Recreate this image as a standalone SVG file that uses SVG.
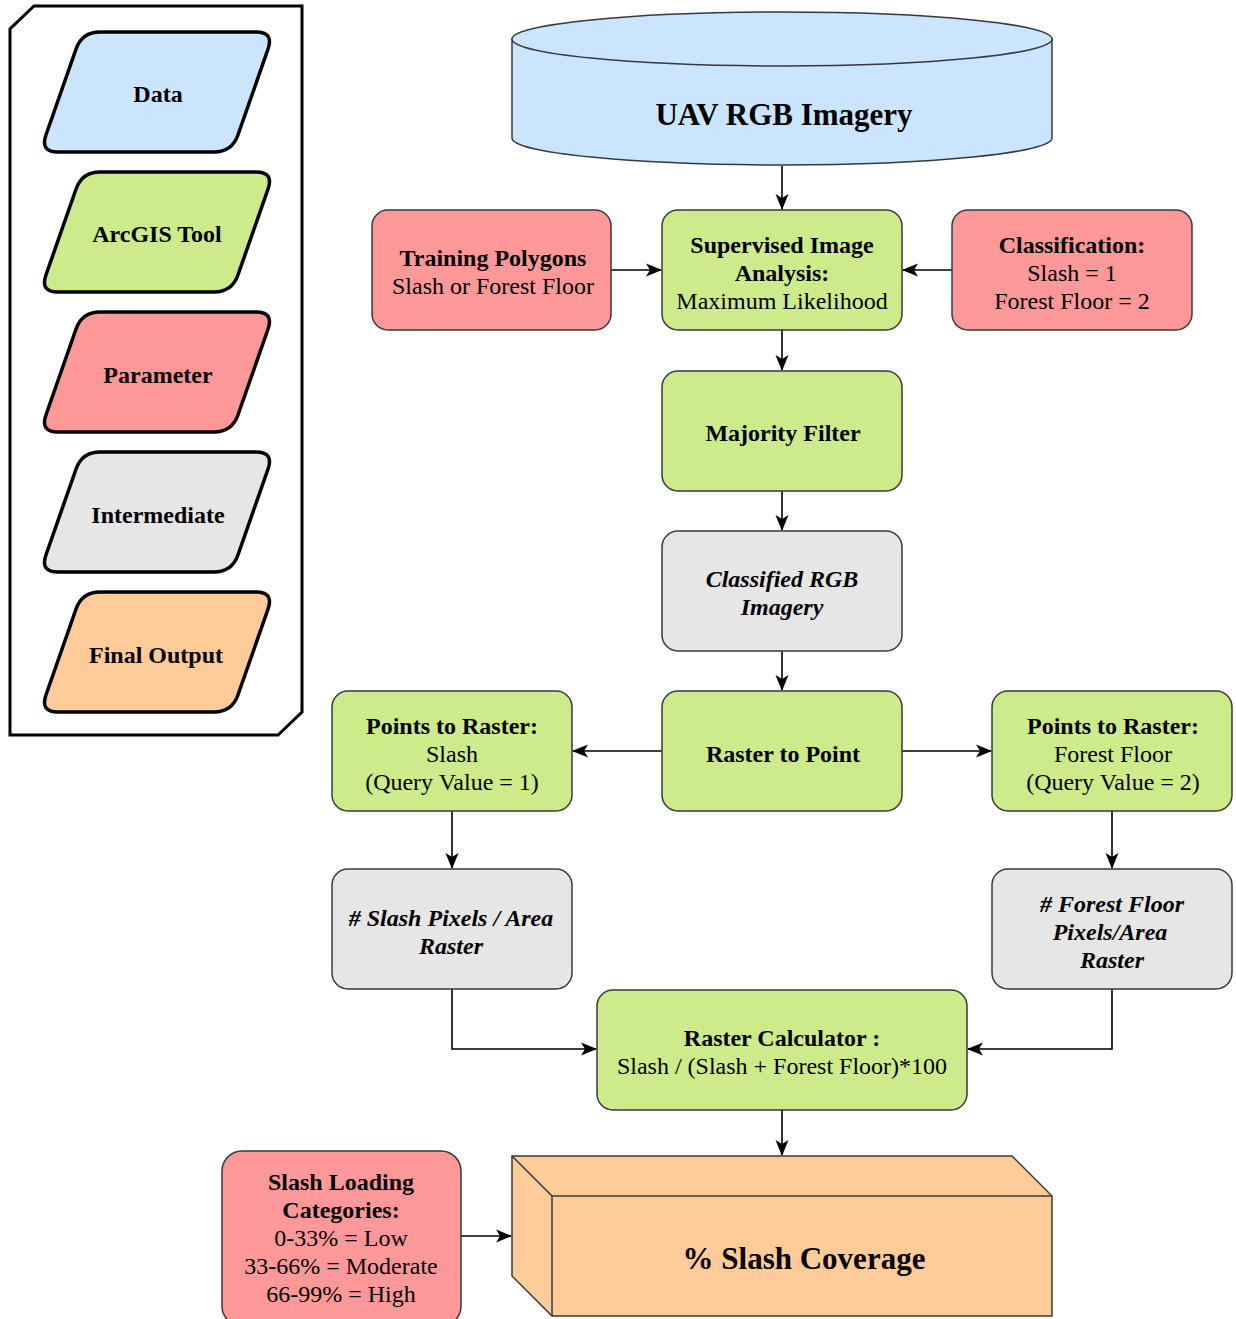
<svg xmlns="http://www.w3.org/2000/svg" width="1236" height="1319" viewBox="0 0 1236 1319">
<style>
text{font-family:"Liberation Serif","Times New Roman",serif;font-size:24px;fill:#000;text-anchor:middle}
.b{font-weight:bold}
.bi{font-weight:bold;font-style:italic}
.big{font-weight:bold;font-size:31px}
.node{stroke:#36393d;stroke-width:1.5}
.leg{stroke:#000;stroke-width:3.5}
.blue{fill:#cce5ff}.green{fill:#cdeb8b}.red{fill:#ff9999}.gray{fill:#e6e6e6}.orange{fill:#ffcc99}
.edge{fill:none;stroke:#000;stroke-width:1.6}
</style>
<defs>
<marker id="arr" viewBox="0 0 16 14" refX="15" refY="7" markerWidth="16" markerHeight="14" markerUnits="userSpaceOnUse" orient="auto">
<path d="M0,0.5 L16,7 L0,13.5 L4,7 Z" fill="#000"/>
</marker>
<path id="para" d="M100,32 H256 Q274,32 268.05,49 L237.95,135 Q232,152 214,152 H58 Q40,152 45.95,135 L76.05,49 Q82,32 100,32 Z"/>
</defs>
<rect width="1236" height="1319" fill="#fff"/>

<g id="legend">
<path d="M34,6 H302 V712 L278,735 H10 V29 Z" fill="#fff" stroke="#000" stroke-width="3"/>
<g id="leg-data"><use href="#para" class="leg blue"/><text class="b" x="158" y="102">Data</text></g>
<g id="leg-tool"><use href="#para" class="leg green" transform="translate(0,140)"/><text class="b" x="157" y="242">ArcGIS Tool</text></g>
<g id="leg-param"><use href="#para" class="leg red" transform="translate(0,280)"/><text class="b" x="158" y="383">Parameter</text></g>
<g id="leg-inter"><use href="#para" class="leg gray" transform="translate(0,420)"/><text class="b" x="158" y="523">Intermediate</text></g>
<g id="leg-final"><use href="#para" class="leg orange" transform="translate(0,560)"/><text class="b" x="156" y="663">Final Output</text></g>
</g>

<g id="connectors">
<path class="edge" d="M782,166 V209" marker-end="url(#arr)"/>
<path class="edge" d="M611,270 H661" marker-end="url(#arr)"/>
<path class="edge" d="M952,270 H903" marker-end="url(#arr)"/>
<path class="edge" d="M782,330 V370" marker-end="url(#arr)"/>
<path class="edge" d="M782,491 V530" marker-end="url(#arr)"/>
<path class="edge" d="M782,651 V690" marker-end="url(#arr)"/>
<path class="edge" d="M662,751 H573" marker-end="url(#arr)"/>
<path class="edge" d="M902,751 H991" marker-end="url(#arr)"/>
<path class="edge" d="M452,811 V868" marker-end="url(#arr)"/>
<path class="edge" d="M1112,811 V868" marker-end="url(#arr)"/>
<path class="edge" d="M452,989 V1049 H596" marker-end="url(#arr)"/>
<path class="edge" d="M1112,989 V1049 H968" marker-end="url(#arr)"/>
<path class="edge" d="M782,1110 V1155" marker-end="url(#arr)"/>
<path class="edge" d="M461,1236 H511" marker-end="url(#arr)"/>
</g>

<g id="uav">
<path class="node blue" d="M512,39 V138 A270,27 0 0 0 1052,138 V39 Z"/>
<ellipse class="node blue" cx="782" cy="39" rx="270" ry="27"/>
<text class="big" x="784" y="125">UAV RGB Imagery</text>
</g>

<g id="training">
<rect class="node red" x="372" y="210" width="239" height="120" rx="16"/>
<text class="b" x="493" y="266">Training Polygons</text>
<text x="493" y="294">Slash or Forest Floor</text>
</g>

<g id="supervised">
<rect class="node green" x="662" y="210" width="240" height="120" rx="16"/>
<text class="b" x="782" y="253">Supervised Image</text>
<text class="b" x="782" y="281">Analysis:</text>
<text x="782" y="309">Maximum Likelihood</text>
</g>

<g id="classification">
<rect class="node red" x="952" y="210" width="240" height="120" rx="16"/>
<text class="b" x="1072" y="253">Classification:</text>
<text x="1072" y="281">Slash = 1</text>
<text x="1072" y="309">Forest Floor = 2</text>
</g>

<g id="majority">
<rect class="node green" x="662" y="371" width="240" height="120" rx="16"/>
<text class="b" x="783" y="441">Majority Filter</text>
</g>

<g id="classified">
<rect class="node gray" x="662" y="531" width="240" height="120" rx="16"/>
<text class="bi" x="782" y="587">Classified RGB</text>
<text class="bi" x="782" y="615">Imagery</text>
</g>

<g id="rastertopoint">
<rect class="node green" x="662" y="691" width="240" height="120" rx="16"/>
<text class="b" x="783" y="762">Raster to Point</text>
</g>

<g id="ptr-slash">
<rect class="node green" x="332" y="691" width="240" height="120" rx="16"/>
<text class="b" x="452" y="734">Points to Raster:</text>
<text x="452" y="762">Slash</text>
<text x="452" y="790">(Query Value = 1)</text>
</g>

<g id="ptr-ff">
<rect class="node green" x="992" y="691" width="240" height="120" rx="16"/>
<text class="b" x="1113" y="734">Points to Raster:</text>
<text x="1113" y="762">Forest Floor</text>
<text x="1113" y="790">(Query Value = 2)</text>
</g>

<g id="slash-raster">
<rect class="node gray" x="332" y="869" width="240" height="120" rx="16"/>
<text class="bi" x="451" y="926"># Slash Pixels / Area</text>
<text class="bi" x="451" y="954">Raster</text>
</g>

<g id="ff-raster">
<rect class="node gray" x="992" y="869" width="240" height="120" rx="16"/>
<text class="bi" x="1112" y="912"># Forest Floor</text>
<text class="bi" x="1110" y="940">Pixels/Area</text>
<text class="bi" x="1112" y="968">Raster</text>
</g>

<g id="calculator">
<rect class="node green" x="597" y="990" width="370" height="120" rx="16"/>
<text class="b" x="782" y="1046">Raster Calculator :</text>
<text x="782" y="1074">Slash / (Slash + Forest Floor)*100</text>
</g>

<g id="categories">
<rect class="node red" x="222" y="1151" width="239" height="175" rx="20"/>
<text class="b" x="341" y="1190">Slash Loading</text>
<text class="b" x="341" y="1218">Categories:</text>
<text x="341" y="1246">0-33% = Low</text>
<text x="341" y="1274">33-66% = Moderate</text>
<text x="341" y="1302">66-99% = High</text>
</g>

<g id="coverage">
<path class="node orange" d="M512,1156 H1012 L1052,1196 V1316 H552 L512,1276 Z"/>
<path class="node" fill="none" d="M512,1156 L552,1196 H1052 M552,1196 V1316"/>
<text class="big" x="804" y="1269">% Slash Coverage</text>
</g>
</svg>
